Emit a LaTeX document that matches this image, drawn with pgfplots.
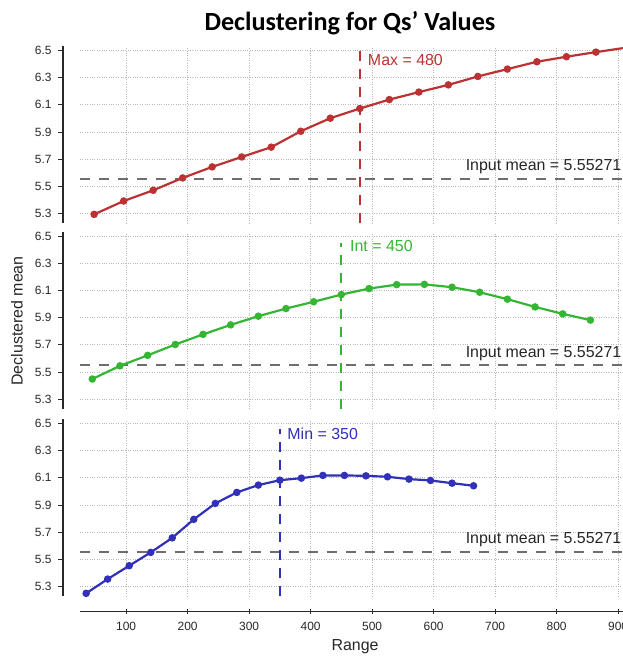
\documentclass[border=0pt]{standalone}
\usepackage{pgfplots}
\pgfplotsset{compat=1.18}
\usepackage{fontspec}
\setmainfont{Liberation Sans}
\newfontfamily\titlefont{Carlito}
\definecolor{cred}{RGB}{188,50,50}
\definecolor{cgreen}{RGB}{52,182,52}
\definecolor{cblue}{RGB}{48,48,185}
\definecolor{cgrid}{RGB}{185,185,185}
\definecolor{cmean}{RGB}{110,110,110}
\definecolor{caxis}{RGB}{40,40,40}
\tikzset{lab/.style={font=\fontsize{16}{16}\selectfont, inner sep=0pt, anchor=west}}
\pgfplotsset{
 panel/.style={
  scale only axis, width=543bp, height=176.8bp,
  xmin=25, xmax=908, ymin=5.23, ymax=6.53,
  xtick={100,200,...,900}, ytick={5.3,5.5,5.7,5.9,6.1,6.3,6.5},
  grid=major, major grid style={cgrid, dotted, line width=0.9pt},
  axis y line=left, axis y line shift=17bp,
  y axis line style={-, line width=1.5pt, caxis},
  tick align=outside, major tick length=5bp,
  tick style={line width=1.1pt, caxis},
  /pgf/number format/assume math mode=true,
  yticklabel style={font=\fontsize{12}{12}\selectfont, text=caxis, xshift=-3bp, /pgf/number format/fixed, /pgf/number format/precision=1, /pgf/number format/fixed zerofill},
  xticklabel style={font=\fontsize{12}{12}\selectfont, text=caxis, yshift=-4bp},
  clip=true,
 },
 noxaxis/.style={axis x line=bottom, x axis line style={draw=none}, xticklabels={}, xtick style={draw=none}},
 ser/.style={line width=2.2pt, mark=*, mark size=2.6bp, mark options={solid}},
 meanline/.style={draw=cmean, line width=1.7pt, dash pattern=on 10bp off 9bp},
 vline/.style={line width=2pt, dash pattern=on 10bp off 8bp},
}
\begin{document}
\begin{tikzpicture}
\useasboundingbox (0,0) rectangle (623bp,660bp);
% top panel
\begin{axis}[panel, noxaxis, at={(80bp,436.8bp)}, anchor=south west]
\addplot[meanline] coordinates {(25,5.55271) (908,5.55271)};
\addplot[vline, draw=cred] coordinates {(480,5.23) (480,6.53)};
\addplot[ser, cred] coordinates {
(48,5.295) (96,5.393) (144,5.472) (192,5.563) (240,5.644) (288,5.717) (336,5.789) (384,5.906) (432,6.002) (480,6.073) (528,6.139) (576,6.194) (624,6.247) (672,6.309) (720,6.363) (768,6.417) (816,6.454) (864,6.488) (912,6.52)};
\node[lab, text=cred] at (axis cs:493,6.43) {Max = 480};
\node[lab, text=black!85] at (axis cs:652,5.645) {Input mean = 5.55271};
\end{axis}
% middle panel
\begin{axis}[panel, noxaxis, at={(80bp,251.2bp)}, anchor=south west]
\addplot[meanline] coordinates {(25,5.55271) (908,5.55271)};
\addplot[vline, draw=cgreen] coordinates {(450,5.23) (450,6.45)};
\addplot[ser, cgreen] coordinates {
(45,5.449) (90,5.546) (135,5.623) (180,5.703) (225,5.777) (270,5.847) (315,5.911) (360,5.967) (405,6.017) (450,6.070) (495,6.114) (540,6.143) (585,6.145) (630,6.124) (675,6.087) (720,6.036) (765,5.979) (810,5.928) (855,5.882)};
\node[lab, text=cgreen] at (axis cs:464,6.427) {Int = 450};
\node[lab, text=black!85] at (axis cs:652,5.635) {Input mean = 5.55271};
\end{axis}
% bottom panel
\begin{axis}[panel, at={(80bp,63.8bp)}, anchor=south west,
  axis x line=bottom, axis x line shift=15.5bp,
  x axis line style={-, line width=1.5pt, caxis}]
\addplot[meanline] coordinates {(25,5.55271) (908,5.55271)};
\addplot[vline, draw=cblue] coordinates {(350,5.23) (350,6.46)};
\addplot[ser, cblue] coordinates {
(35,5.251) (70,5.356) (105,5.454) (140,5.552) (175,5.659) (210,5.795) (245,5.912) (280,5.993) (315,6.047) (350,6.083) (385,6.098) (420,6.118) (455,6.118) (490,6.115) (525,6.108) (560,6.091) (595,6.081) (630,6.061) (665,6.042)};
\node[lab, text=cblue] at (axis cs:362,6.426) {Min = 350};
\node[lab, text=black!85] at (axis cs:652,5.643) {Input mean = 5.55271};
\end{axis}
\node[rotate=90, font=\fontsize{16}{16}\selectfont, text=black!85] at (17bp,339bp) {Declustered mean};
\node[font=\fontsize{16}{16}\selectfont, text=black!85] at (355bp,13bp) {Range};
\node[font=\titlefont\bfseries\fontsize{26.3}{26.3}\selectfont] at (350bp,637bp) {Declustering for Qs’ Values};
\end{tikzpicture}
\end{document}
